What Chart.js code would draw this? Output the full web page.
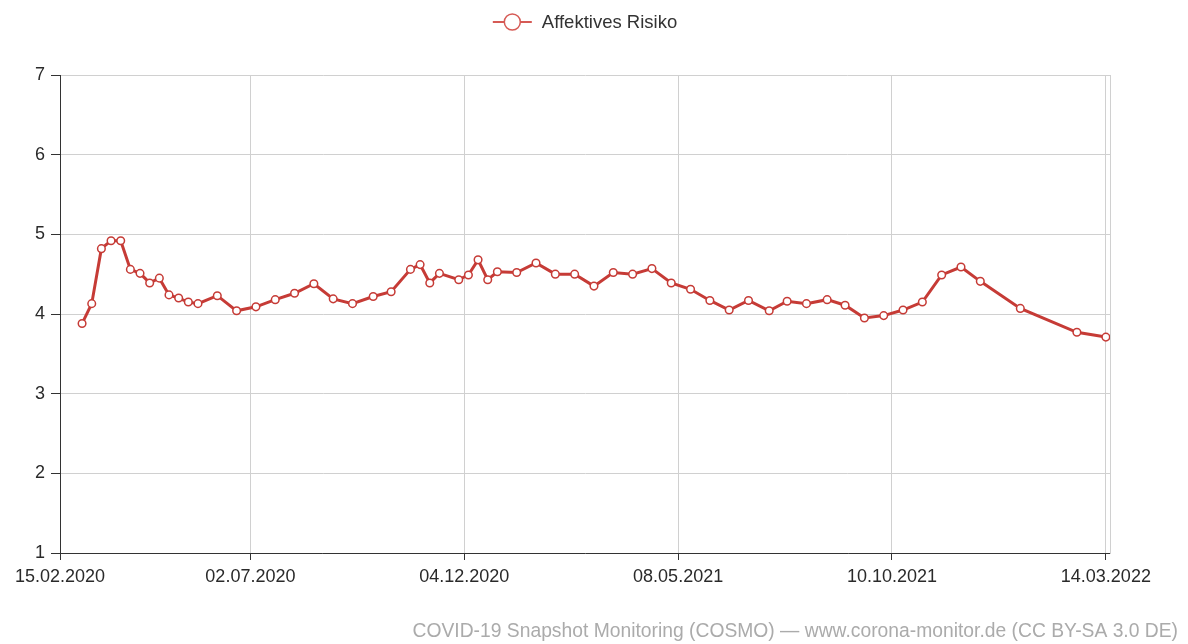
<!DOCTYPE html>
<html>
<head>
<meta charset="utf-8">
<script src="https://cdn.jsdelivr.net/npm/chart.js@4.4.1/dist/chart.umd.min.js"></script>
<style>
  html, body { margin: 0; padding: 0; background: #fff; }
  #wrap { position: relative; width: 1188px; height: 644px; }
</style>
</head>
<body>
<div id="wrap"><canvas id="chart"></canvas></div>
<script>
// survey waves (first day) and the mean score per wave
const surveyDates = [
  '2020-03-02', '2020-03-09', '2020-03-16', '2020-03-23', '2020-03-30',
  '2020-04-06', '2020-04-13', '2020-04-20', '2020-04-27', '2020-05-04',
  '2020-05-11', '2020-05-18', '2020-05-25', '2020-06-08', '2020-06-22',
  '2020-07-06', '2020-07-20', '2020-08-03', '2020-08-17', '2020-08-31',
  '2020-09-14', '2020-09-29', '2020-10-12', '2020-10-26', '2020-11-02',
  '2020-11-09', '2020-11-16', '2020-11-30', '2020-12-07', '2020-12-14',
  '2020-12-21', '2020-12-28', '2021-01-11', '2021-01-25', '2021-02-08',
  '2021-02-22', '2021-03-08', '2021-03-22', '2021-04-05', '2021-04-19',
  '2021-05-03', '2021-05-17', '2021-05-31', '2021-06-14', '2021-06-28',
  '2021-07-13', '2021-07-26', '2021-08-09', '2021-08-24', '2021-09-06',
  '2021-09-20', '2021-10-04', '2021-10-18', '2021-11-01', '2021-11-15',
  '2021-11-29', '2021-12-13', '2022-01-11', '2022-02-21', '2022-03-14'
];
const affectiveRisk = [
  3.88, 4.13, 4.82, 4.92, 4.92, 4.56, 4.51, 4.39, 4.45, 4.24,
  4.20, 4.15, 4.13, 4.23, 4.04, 4.09, 4.18, 4.26, 4.38, 4.19,
  4.13, 4.22, 4.28, 4.56, 4.62, 4.39, 4.51, 4.43, 4.49, 4.68,
  4.43, 4.53, 4.52, 4.64, 4.50, 4.50, 4.35, 4.52, 4.50, 4.57,
  4.39, 4.31, 4.17, 4.05, 4.17, 4.04, 4.16, 4.13, 4.18, 4.11,
  3.95, 3.98, 4.05, 4.15, 4.49, 4.59, 4.41, 4.07, 3.77, 3.71
];
const xTickDates = ['2020-02-15', '2020-07-02', '2020-12-04', '2021-05-08', '2021-10-10', '2022-03-14'];
const xTickLabels = ['15.02.2020', '02.07.2020', '04.12.2020', '08.05.2021', '10.10.2021', '14.03.2022'];
const yTicks = [1, 2, 3, 4, 5, 6, 7];
const seriesLabel = 'Affektives Risiko';
const sourceNote = 'COVID-19 Snapshot Monitoring (COSMO) \u2014 www.corona-monitor.de (CC BY-SA 3.0 DE)';

const red = '#c63b36';
const startDate = xTickDates[0];
const dayOf = (s) => (Date.parse(s) - Date.parse(startDate)) / 86400000;
const tickDays = xTickDates.map(dayOf);

Chart.defaults.font.family = '"Liberation Sans", Arial, sans-serif';
Chart.defaults.font.size = 18;
Chart.defaults.color = '#2a2a2a';

// legend + source line drawn by hand
const extras = {
  id: 'extras',
  afterDraw(chart) {
    const ctx = chart.ctx;
    const area = chart.chartArea;
    ctx.save();
    ctx.font = '18.5px "Liberation Sans", Arial, sans-serif';
    const tw = ctx.measureText(seriesLabel).width;
    const total = 39 + 10 + tw;
    const x0 = (area.left + area.right) / 2 - total / 2;
    const y = 22;
    ctx.strokeStyle = '#d65a55';
    ctx.lineWidth = 2;
    ctx.beginPath();
    ctx.moveTo(x0, y);
    ctx.lineTo(x0 + 39, y);
    ctx.stroke();
    ctx.fillStyle = '#fff';
    ctx.lineWidth = 1.5;
    ctx.beginPath();
    ctx.arc(x0 + 19.5, y, 8, 0, Math.PI * 2);
    ctx.fill();
    ctx.stroke();
    ctx.fillStyle = '#333';
    ctx.textBaseline = 'middle';
    ctx.textAlign = 'left';
    ctx.fillText(seriesLabel, x0 + 49, y + 1);

    ctx.font = '19.3px "Liberation Sans", Arial, sans-serif';
    ctx.fillStyle = '#ababab';
    ctx.textAlign = 'right';
    ctx.fillText(sourceNote, 1178, 632);
    ctx.restore();
  }
};

new Chart(document.getElementById('chart'), {
  type: 'line',
  data: {
    datasets: [{
      label: seriesLabel,
      data: surveyDates.map((d, i) => ({ x: dayOf(d), y: affectiveRisk[i] })),
      borderColor: red,
      borderWidth: 3,
      tension: 0,
      pointRadius: 3.8,
      pointBorderWidth: 1.5,
      pointBackgroundColor: '#fff',
      pointBorderColor: red,
    }],
  },
  options: {
    responsive: true,
    maintainAspectRatio: false,
    animation: false,
    layout: { padding: { top: 75, right: 78, left: 0, bottom: 0 } },
    plugins: {
      legend: { display: false },
      tooltip: { enabled: false },
    },
    scales: {
      x: {
        type: 'linear',
        min: 0,
        max: 761,
        afterBuildTicks: (scale) => { scale.ticks = tickDays.map((v) => ({ value: v })); },
        afterFit: (scale) => { scale.height = 91; },
        ticks: {
          autoSkip: false,
          maxRotation: 0,
          padding: 6,
          callback: (v, i) => xTickLabels[i],
        },
        grid: { color: '#d0d0d0', tickColor: '#333', tickLength: 7 },
        border: { color: '#333', width: 1 },
      },
      y: {
        min: 1,
        max: 7,
        afterBuildTicks: (scale) => { scale.ticks = yTicks.map((v) => ({ value: v })); },
        afterFit: (scale) => { scale.width = 60; },
        ticks: { padding: 6 },
        grid: { color: '#d0d0d0', tickColor: '#333', tickLength: 9 },
        border: { color: '#333', width: 1 },
      },
      y2: {
        position: 'right',
        min: 1,
        max: 7,
        afterFit: (scale) => { scale.width = 0; },
        ticks: { display: false },
        grid: { display: false },
        border: { color: '#d0d0d0', width: 1 },
      },
    },
  },
  plugins: [extras],
});
</script>
</body>
</html>
